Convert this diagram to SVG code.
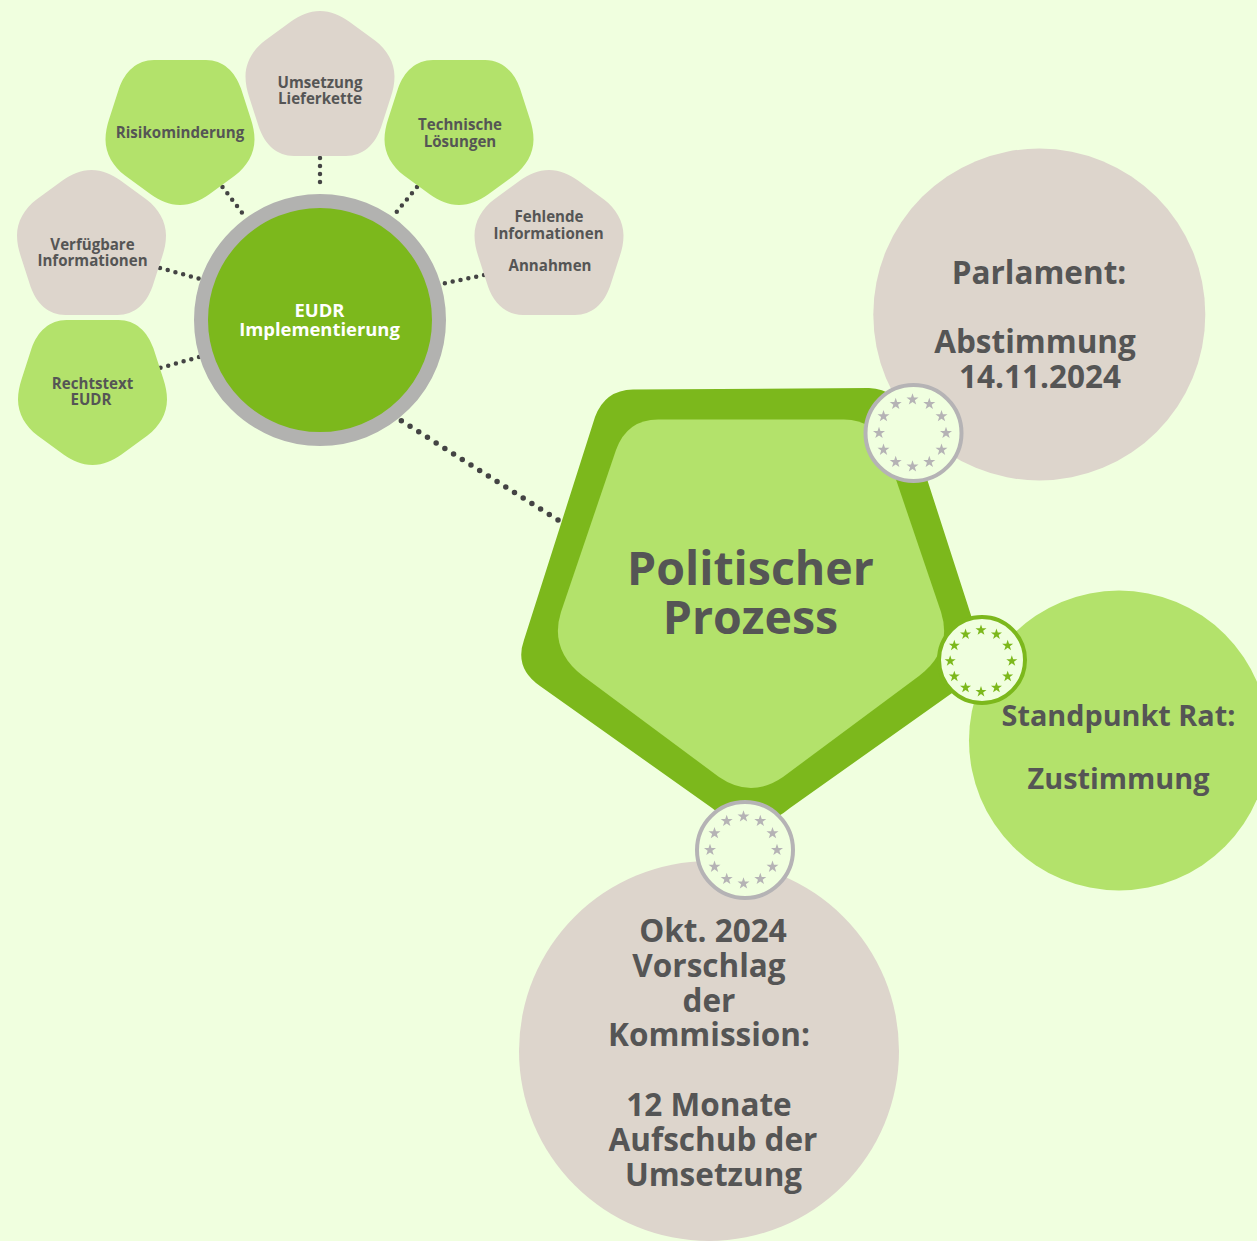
<svg xmlns="http://www.w3.org/2000/svg" width="1257" height="1241" viewBox="0 0 1257 1241">
<style>
text{font-family:"Open Sans","Noto Sans","Liberation Sans",sans-serif;font-weight:700;fill:#555555;text-anchor:middle}
.s{font-size:15.1px}
.m{font-size:31.5px}
.r{font-size:28.8px}
.b{font-size:46.5px}
.w{fill:#ffffff;font-size:18.4px}
.beige{fill:#ddd5cc}
.lime{fill:#b3e26b}
.dot{fill:none;stroke:#444444;stroke-width:4.5;stroke-linecap:round;stroke-dasharray:0 8}
.dotb{fill:none;stroke:#444444;stroke-width:5.5;stroke-linecap:round;stroke-dasharray:0 10.3}
</style>
<defs>
<path id="blob" d="M0-72.500C11-72.500 20-68 29-62L55-43C67-34 74.500-21 74.500-7C74.500 0 73 7 71 13L61 44C55 61 43 72.500 26 72.500L-26 72.500C-43 72.500-55 61-61 44L-71 13C-73 7-74.500 0-74.500-7C-74.500-21-67-34-55-43L-29-62C-20-68-11-72.500 0-72.500Z"/>
<path id="star" d="M0-6.300 1.450-2H6L2.350 .7 3.700 5.100 0 2.450-3.700 5.100-2.350 .7-6-2H-1.450Z"/>
<g id="ring">
<use href="#star" x="0" y="-33.500"/><use href="#star" x="16.800" y="-29"/><use href="#star" x="29" y="-16.800"/><use href="#star" x="33.500" y="0"/><use href="#star" x="29" y="16.800"/><use href="#star" x="16.800" y="29"/><use href="#star" x="0" y="33.500"/><use href="#star" x="-16.800" y="29"/><use href="#star" x="-29" y="16.800"/><use href="#star" x="-33.500" y="0"/><use href="#star" x="-29" y="-16.800"/><use href="#star" x="-16.800" y="-29"/>
</g>
</defs>
<rect width="1257" height="1241" fill="#f0ffdf"/>
<g id="connectors">
<path class="dot" d="M320 158V190"/>
<path class="dot" d="M222.500 187L243 214"/>
<path class="dot" d="M417 187L395 214"/>
<path class="dot" d="M160 268L200 279"/>
<path class="dot" d="M484 275L441 284"/>
<path class="dot" d="M199 357L160 368"/>
<path class="dotb" d="M558 520L400 420"/>
</g>
<g id="node-parlament">
<circle cx="1039.300" cy="314.500" r="166" fill="#ddd5cc"/>
<text class="m" x="1039" y="283.500">Parlament:</text>
<text class="m" x="1035" y="352.500">Abstimmung</text>
<text class="m" x="1040" y="387.500">14.11.2024</text>
</g>
<g id="node-rat">
<circle cx="1119" cy="740.500" r="150" fill="#b3e26b"/>
<text class="r" x="1118.500" y="726">Standpunkt Rat:</text>
<text class="r" x="1118.500" y="789">Zustimmung</text>
</g>
<g id="node-kommission">
<circle cx="709" cy="1051" r="190" fill="#ddd5cc"/>
<text class="m" x="713" y="941.500">Okt. 2024</text>
<text class="m" x="709" y="976.500">Vorschlag</text>
<text class="m" x="709" y="1011.500">der</text>
<text class="m" x="709" y="1045.500">Kommission:</text>
<text class="m" x="709" y="1115.500">12 Monate</text>
<text class="m" x="713" y="1150.500">Aufschub der</text>
<text class="m" x="713.500" y="1185.500">Umsetzung</text>
</g>
<g id="node-prozess">
<path fill="#7cb81c" d="M633 389.500L869 388Q897 389 907 417L979 640Q989 668 962 686L790 808Q751 841 712 808L540 686Q514 668 524 640L595 417Q605 390 633 389.500Z"/>
<path fill="#b3e26b" d="M658 419.500L844 419.500Q875 419.500 886 450L941 612Q953 650 919 676L783 777Q751 799 719 777L583 676Q549 650 561 612L616 450Q627 419.500 658 419.500Z"/>
<text class="b" x="750.500" y="584.500">Politischer</text>
<text class="b" x="750.500" y="633.500">Prozess</text>
</g>
<g id="badge-parlament">
<circle cx="913.500" cy="433" r="48" fill="#f0ffdf" stroke="#b5b3b5" stroke-width="4"/>
<use href="#ring" x="912.500" y="433" fill="#b5b3b5"/>
</g>
<g id="badge-rat">
<circle cx="982" cy="660" r="43" fill="#f0ffdf" stroke="#7cb81c" stroke-width="4"/>
<use href="#ring" transform="translate(981 661) scale(.92)" fill="#7cb81c"/>
</g>
<g id="badge-kommission">
<circle cx="745" cy="850" r="48" fill="#f0ffdf" stroke="#b5b3b5" stroke-width="4"/>
<use href="#ring" x="743.500" y="850" fill="#b5b3b5"/>
</g>
<g id="node-eudr">
<circle cx="320" cy="320" r="119" fill="#7cb81c" stroke="#b2b2b0" stroke-width="14"/>
<text class="w" x="319.500" y="317">EUDR</text>
<text class="w" x="319.500" y="336">Implementierung</text>
</g>
<g id="node-umsetzung">
<use href="#blob" x="320" y="83.500" class="beige"/>
<text class="s" x="320" y="87.500">Umsetzung</text>
<text class="s" x="320" y="103.500">Lieferkette</text>
</g>
<g id="node-risiko">
<use href="#blob" transform="translate(180 132.500) scale(1 -1)" class="lime"/>
<text class="s" x="180" y="137.500">Risikominderung</text>
</g>
<g id="node-technische">
<use href="#blob" transform="translate(459 132.500) scale(1 -1)" class="lime"/>
<text class="s" x="460" y="129.500">Technische</text>
<text class="s" x="460" y="146.500">Lösungen</text>
</g>
<g id="node-verfuegbar">
<use href="#blob" x="91.500" y="242.500" class="beige"/>
<text class="s" x="92.500" y="249.500">Verfügbare</text>
<text class="s" x="92.500" y="265.500">Informationen</text>
</g>
<g id="node-fehlend">
<use href="#blob" x="549" y="242.500" class="beige"/>
<text class="s" x="549" y="221.500">Fehlende</text>
<text class="s" x="548.500" y="238.500">Informationen</text>
<text class="s" x="550" y="270.500">Annahmen</text>
</g>
<g id="node-rechtstext">
<use href="#blob" transform="translate(92.500 392.500) scale(1 -1)" class="lime"/>
<text class="s" x="92.500" y="388.500">Rechtstext</text>
<text class="s" x="91" y="404.500">EUDR</text>
</g>
</svg>
